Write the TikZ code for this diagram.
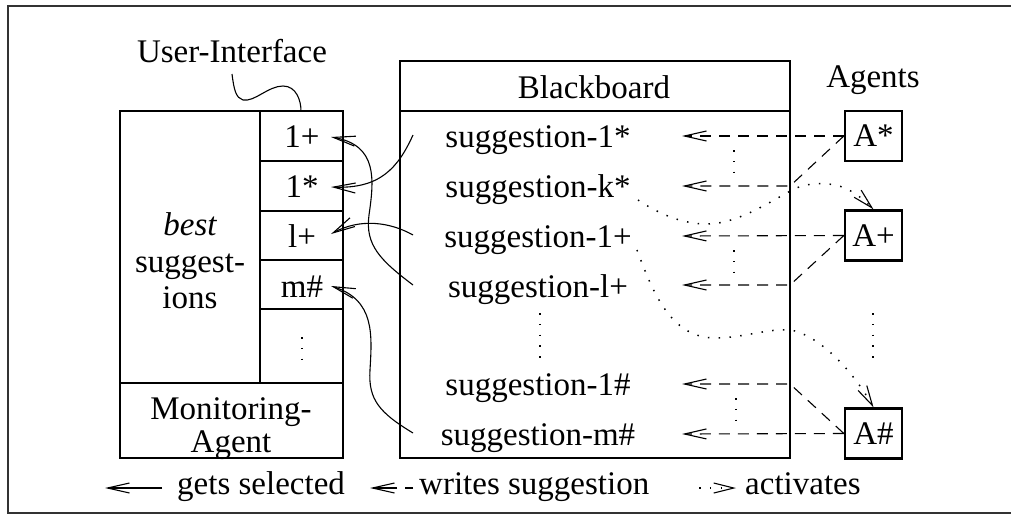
\documentclass[tikz,border=0pt]{standalone}
\usepackage{fontspec}
\setmainfont{Liberation Serif}
\usetikzlibrary{arrows.meta}
\tikzset{
  sel/.style={line width=1.1pt, -{Straight Barb[length=22pt,width=10pt]}},
  wr/.style={line width=1.1pt, dash pattern=on 11pt off 8pt, -{Straight Barb[length=22pt,width=10pt]}},
  act/.style={line width=1.5pt, dash pattern=on 1.5pt off 9.3pt, -{Straight Barb[length=20pt,width=10pt,line width=1.1pt]}},
  vd/.style={line width=1.6pt, dash pattern=on 1.6pt off 9.2pt},
  bigbox/.style={draw, line width=2.3pt, inner sep=0pt},
  abox/.style={draw, line width=2.3pt, inner sep=0pt, minimum width=57pt, minimum height=50pt, font=\fontsize{33}{37}\selectfont},
  thinl/.style={line width=1.2pt},
  txt/.style={inner sep=0pt, anchor=base, font=\fontsize{33}{37}\selectfont},
}
\begin{document}
\begin{tikzpicture}[x=1pt,y=-1pt]
\useasboundingbox (0,0) rectangle (1011,515);
% outer frame
\draw[line width=2pt, black!80] (1015,6) -- (8,6) -- (8,513) -- (1015,513);

% User interface box
\node[bigbox, minimum width=223pt, minimum height=347pt] (ui) at (231.5,284.5) {};
\draw[thinl] (260,111) -- (260,383);
\draw[thinl] (260,161) -- (343,161);
\draw[thinl] (260,211) -- (343,211);
\draw[thinl] (260,260) -- (343,260);
\draw[thinl] (260,309) -- (343,309);
\draw[thinl] (120,383) -- (343,383);
\node[txt] (c1) at (302,147) {1+};
\node[txt] (c2) at (302,197) {1*};
\node[txt] (c3) at (302,247) {l+};
\node[txt] (c4) at (302,297) {m\#};
\draw[vd] (302,337) -- (302,361);
\node[txt] (best1) at (190,235) {\itshape best};
\node[txt] (best2) at (190,272) {suggest-};
\node[txt] (best3) at (190,308) {ions};
\node[txt] (mon1) at (231,419) {Monitoring-};
\node[txt] (mon2) at (231,452) {Agent};

% UI label
\node[txt] (uil) at (232,62) {User-Interface};
\coordinate (uis) at (232,74);
\coordinate (uitop) at (301,111);
\draw[line width=1.1pt] (uis) .. controls (234,90) and (236,98) .. (243,100)
  .. controls (255,102) and (268,86) .. (283,86)
  .. controls (296,86) and (301,100) .. (uitop);

% Blackboard
\node[bigbox, minimum width=390pt, minimum height=397pt] (bb) at (595,259.5) {};
\draw[thinl] (400,111) -- (790,111);
\node[txt] (bbt) at (594,98) {Blackboard};
\node[txt] (s1) at (538,147) {suggestion-1*};
\node[txt] (s2) at (538,197) {suggestion-k*};
\node[txt] (s3) at (538,247) {suggestion-1+};
\node[txt] (s4) at (538,297) {suggestion-l+};
\node[txt] (s5) at (538,395) {suggestion-1\#};
\node[txt] (s6) at (538,445) {suggestion-m\#};
\draw[vd] (540,313) -- (540,358);

% Agents
\node[txt] (agl) at (873,87) {Agents};
\node[abox] (Ast) at (873.5,136) {A*};
\node[abox] (Apl) at (873.5,235.5) {A+};
\node[abox] (Ahs) at (873.5,433.5) {A\#};
\draw[vd] (873,313) -- (873,358);

% writes suggestion (dashed)
\coordinate (t1) at (682,136);
\coordinate (t2) at (682,186);
\coordinate (t3) at (682,236);
\coordinate (t4) at (682,285);
\coordinate (t5) at (682,384);
\coordinate (t6) at (682,434);
\draw[wr] (Ast.west) -- (t1);
\draw[wr] (Ast.west) -- (790,186) -- (t2);
\draw[wr] (Apl.west) -- (t3);
\draw[wr] (Apl.west) -- (790,285) -- (t4);
\draw[wr] (Ahs.west) -- (t6);
\draw[wr] (Ahs.west) -- (790,384) -- (t5);
\draw[vd] (734,150) -- (734,174);
\draw[vd] (734,250) -- (734,274);
\draw[vd] (736,398) -- (736,422);

% activates (dotted)
\coordinate (ka) at (638,200);
\coordinate (pa) at (637,250);
\draw[act] (ka) .. controls (662,216) and (685,224) .. (707,224)
  .. controls (735,224) and (765,205) .. (792,190)
  .. controls (808,182) and (825,183) .. (835,185)
  .. controls (850,188) and (862,198) .. (Apl.north);
\draw[act] (pa) .. controls (652,290) and (670,338) .. (715,338)
  .. controls (745,338) and (775,326) .. (795,331)
  .. controls (825,340) and (855,375) .. (Ahs.north);

% gets selected (solid)
\coordinate (o1) at (413,135);
\coordinate (o3) at (413,235);
\coordinate (o4) at (413,285);
\coordinate (o6) at (413,433);
\coordinate (e1) at (331,137);
\coordinate (e2) at (331,187);
\coordinate (e3) at (331,234);
\coordinate (e4) at (331,286);
\draw[sel] (o1) .. controls (398,168) and (380,189) .. (e2);
\draw[sel] (o4) .. controls (380,260) and (365,245) .. (369,215)
  .. controls (374,180) and (378,145) .. (e1);
\draw[sel] (o3) .. controls (390,222) and (360,218) .. (e3);
\draw[sel] (o6) .. controls (380,413) and (368,400) .. (370,370)
  .. controls (372,335) and (375,300) .. (e4);

% legend
\coordinate (l1a) at (162,488);
\coordinate (l1b) at (105,488);
\draw[sel] (l1a) -- (l1b);
\node[txt, anchor=base west] (lg1) at (177,494) {gets selected};
\coordinate (l2a) at (413,488);
\coordinate (l2b) at (370,488);
\draw[wr, dash pattern=on 8pt off 8pt on 40pt] (l2a) -- (l2b);
\node[txt, anchor=base west] (lg2) at (419,494) {writes suggestion};
\coordinate (l3a) at (699,488);
\coordinate (l3b) at (736,488);
\draw[act] (l3a) -- (l3b);
\node[txt, anchor=base west] (lg3) at (745,494) {activates};
\end{tikzpicture}
\end{document}
